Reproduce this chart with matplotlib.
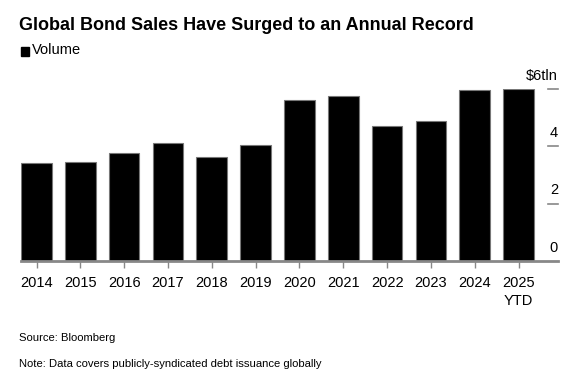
import matplotlib
matplotlib.use("Agg")
import matplotlib.pyplot as plt
from matplotlib.transforms import blended_transform_factory

# chart data
years = ["2014", "2015", "2016", "2017", "2018", "2019",
         "2020", "2021", "2022", "2023", "2024", "2025\nYTD"]
volume = [3.43, 3.46, 3.76, 4.10, 3.62, 4.04,
          5.60, 5.76, 4.71, 4.87, 5.98, 5.99]
y_ticks = [0, 2, 4, 6]
y_tick_labels = ["0", "2", "4", "$6tln"]

W, H = 582, 384
plt.rcParams["font.family"] = ["Liberation Sans", "DejaVu Sans"]

fig = plt.figure(figsize=(W / 100, H / 100), dpi=100)
ax = fig.add_axes([21 / W, (H - 261) / H, (558 - 21) / W, (261 - 89) / H])

x = list(range(len(years)))
ax.bar(x, volume, width=0.70, color="black", edgecolor="#777777",
       linewidth=0.8, zorder=2)

ax.set_xlim(-0.354, 11.9)
ax.set_ylim(0, 6)

for side in ["top", "left", "right"]:
    ax.spines[side].set_visible(False)
ax.spines["bottom"].set_color("#888888")
ax.spines["bottom"].set_linewidth(2)
ax.spines["bottom"].set_zorder(3)

ax.set_xticks(x)
ax.set_xticklabels(years, fontsize=10.5, linespacing=1.3)
ax.tick_params(axis="x", length=5, width=1, color="#888888", pad=6)

# right side value ticks: short grey dashes with labels sitting above them
ax.set_yticks([])
trans = blended_transform_factory(ax.transAxes, ax.transData)
for val, lab in zip(y_ticks, y_tick_labels):
    if val > 0:
        ax.plot([0.981, 1.0], [val, val], transform=trans, color="#888888",
                linewidth=1.2, clip_on=False)
    ax.text(1.0, val + 0.22, lab, transform=trans, ha="right",
            va="bottom", fontsize=10.5, color="black")

# title, legend and footnotes
fig.text(19 / W, 1 - 25 / H, "Global Bond Sales Have Surged to an Annual Record",
         fontsize=13.0, fontweight="bold", va="center", ha="left")
fig.patches.append(plt.Rectangle((21 / W, 1 - 55.5 / H), 8 / W, 9 / H,
                                 transform=fig.transFigure, color="black"))
fig.text(32 / W, 1 - 50.5 / H, "Volume", fontsize=10.5, va="center", ha="left")
fig.text(19 / W, 1 - 338 / H, "Source: Bloomberg", fontsize=8.1,
         va="center", ha="left")
fig.text(19 / W, 1 - 364 / H,
         "Note: Data covers publicly-syndicated debt issuance globally",
         fontsize=8.1, va="center", ha="left")

fig.savefig("out.png", dpi=100)
